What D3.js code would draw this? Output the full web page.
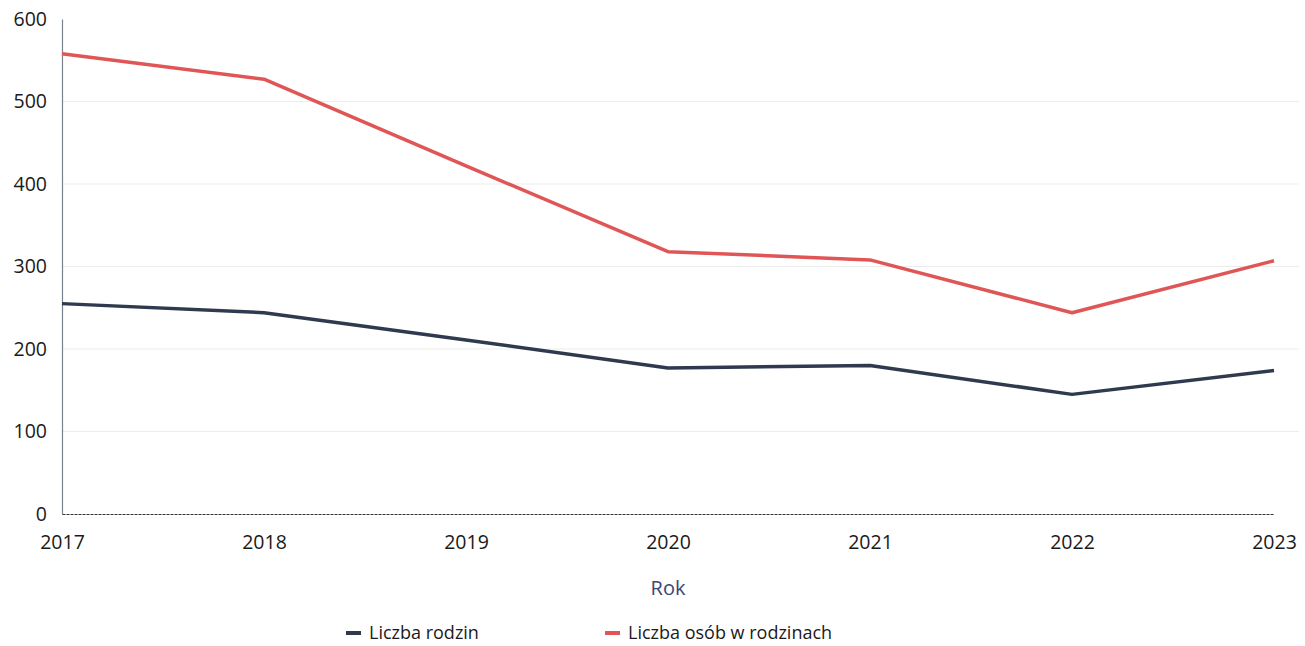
<!DOCTYPE html>
<html>
<head>
<meta charset="utf-8">
<script src="https://cdn.jsdelivr.net/npm/d3@7"></script>
<style>
  body { margin: 0; background: #fff; }
  svg { font-family: "Open Sans", "Noto Sans", sans-serif; }
</style>
</head>
<body>
<div id="chart"></div>
<script>
var years = [2017, 2018, 2019, 2020, 2021, 2022, 2023];
var rodziny = [255, 244, 211, 177, 180, 145, 174];     // Liczba rodzin
var osoby = [558, 527, 422, 318, 308, 244, 307];       // Liczba osób w rodzinach
var yTicks = [0, 100, 200, 300, 400, 500, 600];

var W = 1305, H = 646;
var margin = {left: 62, right: 31, top: 19, bottom: 132};

var svg = d3.select('#chart').append('svg')
	.attr('width', W)
	.attr('height', H)

var x = d3.scalePoint()
	.domain(years)
	.range([margin.left, W - margin.right])

var y = d3.scaleLinear()
	.domain([0, 600])
	.range([H - margin.bottom, margin.top])

// faint grid lines
svg.append('g')
	.selectAll('line')
	.data(yTicks.filter(d => d > 0 && d < 600))
	.join('line')
	.attr('x1', margin.left)
	.attr('x2', W - margin.right + 25)
	.attr('y1', d => y(d))
	.attr('y2', d => y(d))
	.style('stroke', '#ececec')
	.style('stroke-width', 1)

// y axis
var yAxis = svg.append('g')
	.attr('transform', `translate(${margin.left},0)`)
	.call(d3.axisLeft(y).tickValues(yTicks).tickSize(0).tickPadding(15))
yAxis.attr('font-family', null)
yAxis.select('.domain').style('stroke', '#7a8290').style('stroke-width', 1.2)
yAxis.selectAll('text')
	.style('font-size', '19.5px')
	.style('fill', '#1a1a1a')

// x axis
var xAxis = svg.append('g')
	.attr('transform', `translate(0,${y(0)})`)
	.call(d3.axisBottom(x).tickSize(0).tickPadding(21))
xAxis.attr('font-family', null)
xAxis.select('.domain').style('stroke', '#333').style('stroke-width', 1).style('stroke-dasharray', '3,1')
xAxis.selectAll('text')
	.style('font-size', '19.5px')
	.style('fill', '#1a1a1a')

svg.append('text')
	.attr('x', (margin.left + W - margin.right) / 2)
	.attr('y', 595)
	.attr('text-anchor', 'middle')
	.style('font-size', '20px')
	.style('fill', '#3b4672')
	.text('Rok')

var line = d3.line()
	.x((d, i) => x(years[i]))
	.y(d => y(d))

var series = [
	{name: 'Liczba rodzin', values: rodziny, color: '#2f3a4e'},
	{name: 'Liczba osób w rodzinach', values: osoby, color: '#e05656'},
]

svg.append('g')
	.selectAll('path')
	.data(series)
	.join('path')
	.attr('d', d => line(d.values))
	.style('fill', 'none')
	.style('stroke', d => d.color)
	.style('stroke-width', 3.5)
	.style('stroke-linejoin', 'round')

// legend
var legendX = [346, 605]
var lg = svg.append('g')
	.selectAll('g')
	.data(series)
	.join('g')
	.attr('transform', (d, i) => `translate(${legendX[i]}, 633)`)

lg.append('rect')
	.attr('x', 0)
	.attr('y', -2)
	.attr('width', 15)
	.attr('height', 4)
	.style('fill', d => d.color)

lg.append('text')
	.attr('x', 23)
	.attr('y', 6)
	.style('font-size', '18px')
	.style('fill', '#1a1a1a')
	.text(d => d.name)
</script>
</body>
</html>
